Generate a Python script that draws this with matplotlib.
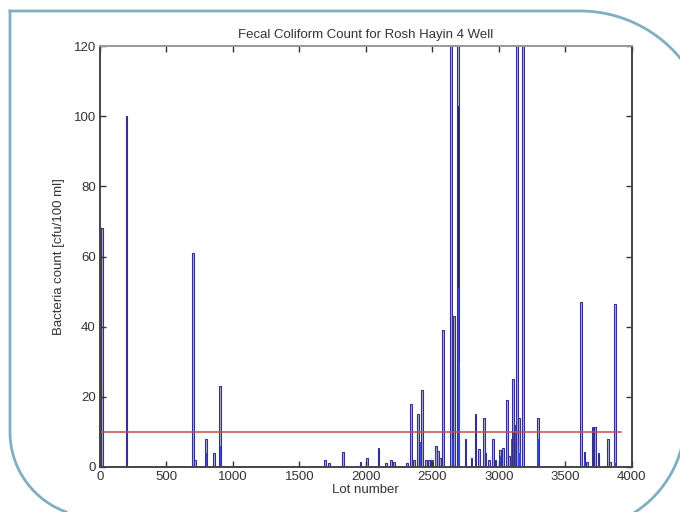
import matplotlib
matplotlib.use('Agg')
import matplotlib.pyplot as plt
import numpy as np
from matplotlib.lines import Line2D

plt.rcParams['font.family'] = ['Liberation Sans', 'DejaVu Sans']

# lot numbers and bacteria counts (values above 120 are clipped by the axis)
lots = [5, 15, 200, 700, 715, 800, 855, 905,
        1695, 1725, 1830, 1960, 2010, 2095, 2150, 2190, 2210,
        2310, 2337, 2362, 2395, 2425, 2450, 2475, 2500, 2525, 2545, 2560,
        2580, 2640, 2660, 2695, 2750, 2795, 2825, 2850, 2888, 2900, 2925,
        2955, 2975, 3012, 3030, 3062, 3080, 3105, 3135, 3150, 3185, 3295,
        3620, 3645, 3665, 3705, 3725, 3750, 3820, 3835, 3875]
counts = [68, 68, 100, 61, 2, 8, 4, 23,
          2, 1, 4.4, 1.5, 2.5, 5.4, 1, 2, 1.5,
          1, 18, 2, 15, 22, 2, 2, 2, 6, 4.5, 2.5,
          39, 200, 43, 200, 8, 2.5, 15, 5, 14, 4, 2,
          8, 2, 4.8, 5.5, 19, 3, 25, 200, 14, 200, 14,
          47, 4.4, 1.5, 11.5, 11.5, 4, 8, 1.5, 46.5]

# overlapping lower samples at the same lots (drawn in bright blue)
lots_low = [800, 905, 2412, 2525, 2650, 2695, 2705, 3012, 3095, 3110, 3125, 3150, 3160, 3295, 3645, 3875]
counts_low = [4, 6, 7, 4, 8, 51, 30, 3, 8, 10, 12, 6, 4, 8, 2, 1]
lots_dark = [2695]
counts_dark = [103]

limit = 10
limit_range = [0, 3920]

fig = plt.figure(figsize=(6.8, 5.12), dpi=100)
ax = fig.add_axes([0.147, 0.088, 0.782, 0.822])

ax.bar(lots, counts, width=14, color='#b4b0dc', edgecolor='#34318a', linewidth=0.8)
ax.bar(lots_dark, counts_dark, width=7, color='#24226a', linewidth=0)
ax.bar(lots_low, counts_low, width=11, color='#3448dc', linewidth=0)
ax.plot(limit_range, [limit, limit], color='#c0504d', linewidth=1.1)

ax.set_xlim(0, 4000)
ax.set_ylim(0, 120)
ax.set_xticks(np.arange(0, 4001, 500))
ax.set_yticks(np.arange(0, 121, 20))
ax.tick_params(direction='in', length=4, width=1, top=True, right=True,
               labelsize=9.5, colors='#333333', pad=3)
for s in ax.spines.values():
    s.set_linewidth(1.4)
    s.set_color('#444444')
ax.spines['top'].set_color('#999999')

ax.set_title('Fecal Coliform Count for Rosh Hayin 4 Well', fontsize=9.5, color='#333333', pad=6)
ax.set_xlabel('Lot number', fontsize=9.5, color='#333333', labelpad=1)
ax.set_ylabel('Bacteria count [cfu/100 ml]', fontsize=9.5, color='#333333', labelpad=6)

# decorative rounded frame around the picture (figure pixel coords, y down)
W, H = 680.0, 512.0
def fx(px):
    return np.asarray(px) / W
def fy(py):
    return 1 - np.asarray(py) / H

col = '#7fb0c0'
t = np.linspace(-np.pi / 2, 0.15, 60)
top_x = np.concatenate([[10], 580 + 130 * np.cos(t)])
top_y = np.concatenate([[11], 141 + 130 * np.sin(t)])
t2 = np.linspace(np.pi, np.pi / 2 + 0.35, 60)
left_x = np.concatenate([[10], 95 + 85 * np.cos(t2)])
left_y = np.concatenate([[11], 432 + 85 * np.sin(t2)])
t3 = np.linspace(0.25, 1.25, 60)
br_x = 575 + 110 * np.cos(t3)
br_y = 420 + 110 * np.sin(t3)
for xs, ys in [(top_x, top_y), (left_x, left_y), (br_x, br_y)]:
    fig.add_artist(Line2D(fx(xs), fy(ys), transform=fig.transFigure, color=col, linewidth=2))

fig.savefig('out.png', dpi=100)
